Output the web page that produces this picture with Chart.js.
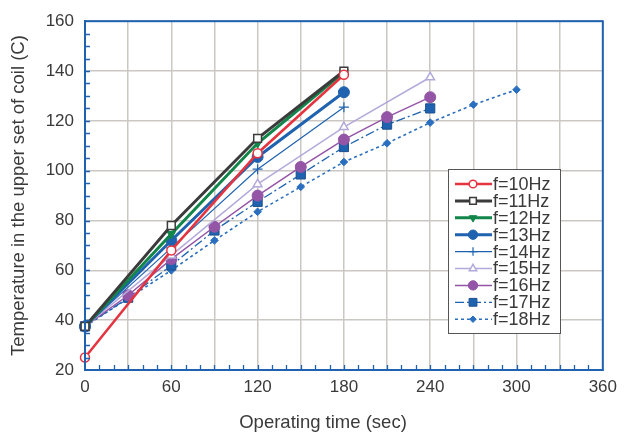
<!DOCTYPE html>
<html>
<head>
<meta charset="utf-8">
<script src="https://cdn.jsdelivr.net/npm/chart.js@4.4.1/dist/chart.umd.min.js"></script>
<style>
  body { margin: 0; background: #fff; }
  canvas { display: block; }
</style>
</head>
<body>
<canvas id="myChart" width="624" height="432"></canvas>
<script>
// Datos (tiempo en seg, temperatura en C)
const times4 = [0, 60, 120, 180];
const times5 = [0, 60, 120, 180, 240];
const times9 = [0, 30, 60, 90, 120, 150, 180, 210, 240];
const times10 = [0, 60, 90, 120, 150, 180, 210, 240, 270, 300];

const temp10 = [25, 68, 107, 138.5];
const temp11 = [37.5, 78, 113, 140];
const temp12 = [37.5, 74.6, 111, 139.5];
const temp13 = [37.5, 72, 105.5, 131.5];
const temp14 = [37.5, 69, 100.6, 125.5];
const temp15 = [37.5, 66, 94.6, 117.5, 137.5];
const temp16 = [37.5, 50, 64.5, 77.5, 90, 101.5, 112.5, 121.5, 129.5];
const temp17 = [37.5, 49, 62, 76, 87.5, 98.5, 109.5, 118.5, 125];
const temp18 = [37.5, 60, 72, 83.5, 93.5, 103.5, 111, 119.3, 126.5, 132.5];

const seriesLabels = ['f=10Hz', 'f=11Hz', 'f=12Hz', 'f=13Hz', 'f=14Hz', 'f=15Hz', 'f=16Hz', 'f=17Hz', 'f=18Hz'];
const yTicks = [20, 40, 60, 80, 100, 120, 140, 160];
const xTicks = [0, 60, 120, 180, 240, 300, 360];

const BLUE = '#1f63b0';
const FONT = '"Liberation Sans", Arial, sans-serif';

function pts(xs, ys) {
  return xs.map((x, i) => ({ x: x, y: ys[i] }));
}

const datasets = [
  { label: seriesLabels[0], data: pts(times4, temp10), borderColor: '#e5333f', borderWidth: 2.5,
    pointStyle: 'circle', pointRadius: 4.5, pointBackgroundColor: '#fff', pointBorderColor: '#e5333f', pointBorderWidth: 1.5 },
  { label: seriesLabels[1], data: pts(times4, temp11), borderColor: '#3b3b3b', borderWidth: 3,
    pointStyle: 'rect', pointRadius: 5.5, pointBackgroundColor: '#fff', pointBorderColor: '#3b3b3b', pointBorderWidth: 1.5 },
  { label: seriesLabels[2], data: pts(times4, temp12), borderColor: '#11854a', borderWidth: 3,
    pointStyle: 'triangle', pointRotation: 180, pointRadius: 5, pointBackgroundColor: '#11854a', pointBorderColor: '#11854a', pointBorderWidth: 1 },
  { label: seriesLabels[3], data: pts(times4, temp13), borderColor: BLUE, borderWidth: 3,
    pointStyle: 'circle', pointRadius: 5.5, pointBackgroundColor: BLUE, pointBorderColor: BLUE, pointBorderWidth: 1 },
  { label: seriesLabels[4], data: pts(times4, temp14), borderColor: BLUE, borderWidth: 1.2,
    pointStyle: 'cross', pointRadius: 5, pointBackgroundColor: BLUE, pointBorderColor: BLUE, pointBorderWidth: 1.2 },
  { label: seriesLabels[5], data: pts(times5, temp15), borderColor: '#b3aadb', borderWidth: 1.5,
    pointStyle: 'triangle', pointRadius: 5, pointBackgroundColor: '#fff', pointBorderColor: '#b3aadb', pointBorderWidth: 1.5 },
  { label: seriesLabels[6], data: pts(times9, temp16), borderColor: '#9455a6', borderWidth: 1.5,
    pointStyle: 'circle', pointRadius: 5.5, pointBackgroundColor: '#9455a6', pointBorderColor: '#9455a6', pointBorderWidth: 1 },
  { label: seriesLabels[7], data: pts(times9, temp17), borderColor: BLUE, borderWidth: 1.3, borderDash: [9, 3, 2, 3],
    pointStyle: 'rect', pointRadius: 6.5, pointBackgroundColor: BLUE, pointBorderColor: '#1a4f8f', pointBorderWidth: 1 },
  { label: seriesLabels[8], data: pts(times10, temp18), borderColor: '#2a6ec0', borderWidth: 1.6, borderDash: [3, 3],
    pointStyle: 'rectRot', pointRadius: 3.8, pointBackgroundColor: '#2a6ec0', pointBorderColor: '#2a6ec0', pointBorderWidth: 1 }
];
datasets.forEach(d => { d.fill = false; d.tension = 0; d.clip = false; });

// Marco, ticks menores, titulo del eje X y leyenda dentro del area
const extras = {
  id: 'extras',
  afterDraw(chart) {
    const { ctx, chartArea: a, scales } = chart;
    ctx.save();
    // ticks menores hacia dentro
    ctx.strokeStyle = BLUE;
    ctx.lineWidth = 1.3;
    ctx.beginPath();
    for (let v = 10; v < 360; v += 10) {
      const px = Math.round(scales.x.getPixelForValue(v)) + 0.5;
      ctx.moveTo(px, a.bottom);
      ctx.lineTo(px, a.bottom - 5);
    }
    for (let v = 25; v < 160; v += 5) {
      const py = Math.round(scales.y.getPixelForValue(v)) + 0.5;
      ctx.moveTo(a.left, py);
      ctx.lineTo(a.left + 5, py);
    }
    ctx.stroke();
    // marco
    ctx.lineWidth = 2;
    ctx.strokeRect(a.left, a.top, a.right - a.left, a.bottom - a.top);

    // titulo eje X
    ctx.fillStyle = '#3a3a3a';
    ctx.font = '18.5px ' + FONT;
    ctx.textAlign = 'center';
    ctx.textBaseline = 'middle';
    ctx.fillText('Operating time (sec)', 323, 423);

    // leyenda
    const bx = 448, by = 169, bw = 112, bh = 164;
    ctx.fillStyle = '#fff';
    ctx.fillRect(bx, by, bw, bh);
    ctx.strokeStyle = '#555';
    ctx.lineWidth = 1;
    ctx.strokeRect(bx + 0.5, by + 0.5, bw, bh);
    ctx.font = '18px ' + FONT;
    ctx.textAlign = 'left';
    chart.data.datasets.forEach((d, i) => {
      const y = by + 15 + i * 16.9;
      ctx.save();
      ctx.strokeStyle = d.borderColor;
      ctx.lineWidth = d.borderWidth;
      ctx.setLineDash(d.borderDash || []);
      ctx.beginPath();
      ctx.moveTo(455, y);
      ctx.lineTo(492, y);
      ctx.stroke();
      ctx.setLineDash([]);
      ctx.fillStyle = d.pointBackgroundColor;
      ctx.strokeStyle = d.pointBorderColor;
      ctx.lineWidth = d.pointBorderWidth;
      Chart.helpers.drawPoint(ctx, {
        pointStyle: d.pointStyle,
        radius: d.pointRadius * 0.85,
        rotation: d.pointRotation || 0,
        borderWidth: d.pointBorderWidth
      }, 473, y);
      ctx.restore();
      ctx.fillStyle = '#3a3a3a';
      ctx.fillText(d.label, 493, y + 1);
    });
    ctx.restore();
  }
};

const ctx = document.getElementById('myChart').getContext('2d');
const chart = new Chart(ctx, {
  type: 'line',
  data: { datasets: datasets },
  options: {
    responsive: false,
    animation: false,
    layout: { padding: { left: 0, right: 21, top: 19, bottom: 0 } },
    plugins: {
      legend: { display: false },
      tooltip: { enabled: false }
    },
    scales: {
      x: {
        type: 'linear',
        min: 0,
        max: 360,
        afterFit: s => { s.height = 62; },
        ticks: {
          stepSize: 30,
          padding: 7,
          color: '#3a3a3a',
          font: { size: 17, family: FONT },
          callback: v => (xTicks.includes(v) ? String(v) : '')
        },
        grid: { color: '#cbc7c3', lineWidth: 1.5, drawTicks: false },
        border: { color: BLUE, width: 2 }
      },
      y: {
        min: 20,
        max: 160,
        afterFit: s => { s.width = 85; },
        ticks: {
          stepSize: 20,
          padding: 11,
          color: '#3a3a3a',
          font: { size: 17, family: FONT },
          callback: v => (yTicks.includes(v) ? String(v) : '')
        },
        grid: { color: '#cbc7c3', lineWidth: 1.5, drawTicks: false },
        border: { color: BLUE, width: 2 },
        title: {
          display: true,
          text: 'Temperature in the upper set of coil (C)',
          color: '#3a3a3a',
          font: { size: 18.5, family: FONT },
          padding: { top: 8, bottom: 0 }
        }
      }
    }
  },
  plugins: [extras]
});
</script>
</body>
</html>
